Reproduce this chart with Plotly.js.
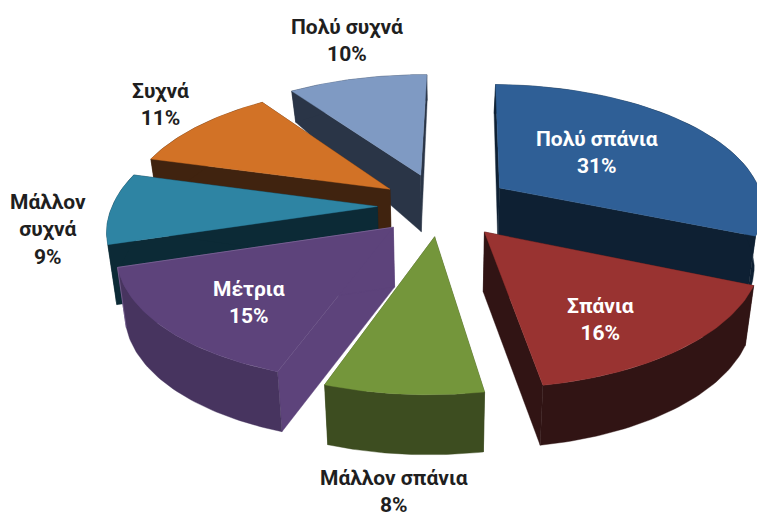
<!DOCTYPE html>
<html><head><meta charset="utf-8">
<script src="https://cdn.plot.ly/plotly-3.0.1.min.js"></script>
<style>html,body{margin:0;padding:0;background:#fff}#c{width:757px;height:518px}</style></head>
<body><div id="c"></div>
<script>
// data, clockwise from 12 o'clock
const categories = ["Πολύ σπάνια","Σπάνια","Μάλλον σπάνια","Μέτρια","Μάλλον συχνά","Συχνά","Πολύ συχνά"];
const shares = [31,16,8,15,9,11,10];
// styles
const topColors  = ["#2f5f96","#993331","#74963b","#5d437b","#2e84a3","#d27226","#7f9ac3"];
const wallColors = ["#0e2033","#311414","#3d4d20","#47345f","#0c2a36","#40230f","#2a3547"];
const faceColors = ["#0e2033","#311414","#3d4d20","#5d437b","#0c2a36","#40230f","#2a3547"];
const labelColors= ["#ffffff","#ffffff","#1f1f1f","#ffffff","#1f1f1f","#1f1f1f","#1f1f1f"];
const labelNames = ["Πολύ σπάνια","Σπάνια","Μάλλον σπάνια","Μέτρια","Μάλλον<br>συχνά","Συχνά","Πολύ συχνά"];
const labelX = [597,600,394,249,48,160,347];
const labelY = [152,319,491,302,229,104,40];
const drawOrder = [6,5,4,0,3,2,1];
const pull = [0.27,0.26,0.24,0.24,0.24,0.24,0.27];
const rotation = 0.9*Math.PI/180;
// projection of the exploded disc
const cx=441, cy=206, R=265, Ra=124, k=0.15, taper=0.027, shear=5;
const f = Y => 1/(1-k*Y);
const depth = Y => 60 - 27*Math.max(0,-Y-0.2) - (Y<0.2?4*(0.2-Y):0);
function proj(X,Y,low){
  let x=cx+R*X*f(Y)-shear*Math.max(0,Y), y=cy+Ra*Y*f(Y);
  if(low){ x=cx+(x-cx)*(1-taper); y+=depth(Y); }
  return [x,y];
}
const traces=[];
function poly(pts,color){
  traces.push({type:'scatter',mode:'lines',x:pts.map(p=>p[0]),y:pts.map(p=>p[1]),fill:'toself',fillcolor:color,
    line:{color:color,width:0.4},hoverinfo:'skip',showlegend:false});
}
const total=shares.reduce((a,b)=>a+b,0);
const starts=[];let acc=0;shares.forEach(v=>{starts.push(acc);acc+=v;});
drawOrder.forEach(i=>{
  const t0=rotation+starts[i]/total*2*Math.PI, t1=rotation+(starts[i]+shares[i])/total*2*Math.PI, tm=(t0+t1)/2;
  const ax=pull[i]*Math.sin(tm), ay=-pull[i]*Math.cos(tm);
  const rim=[];for(let j=0;j<=48;j++){const t=t0+(t1-t0)*j/48;rim.push([ax+Math.sin(t),ay-Math.cos(t)]);}
  const A=proj(ax,ay),Al=proj(ax,ay,true);
  const top=rim.map(p=>proj(p[0],p[1])), low=rim.map(p=>proj(p[0],p[1],true));
  poly([A,top[0],low[0],Al,A],faceColors[i]);
  poly([A,top[48],low[48],Al,A],faceColors[i]);
  poly(top.concat(low.slice().reverse()).concat([top[0]]),wallColors[i]);
  poly([A].concat(top).concat([A]),topColors[i]);
  if(faceColors[i]===topColors[i]){
    traces.push({type:'scatter',mode:'lines',x:[A[0],top[48][0],low[48][0]],y:[A[1],top[48][1],low[48][1]],
      line:{color:'#8a74a3',width:0.6},hoverinfo:'skip',showlegend:false});
  }
});
const annotations=categories.map((c,i)=>({x:labelX[i],y:labelY[i],xref:'x',yref:'y',showarrow:false,xanchor:'center',yanchor:'middle',
  text:'<b>'+labelNames[i]+'<br>'+shares[i]+'%</b>',font:{family:'Roboto',size:21,color:labelColors[i]}}));
Plotly.newPlot('c',traces,{
  width:757,height:518,margin:{l:0,r:0,t:0,b:0},paper_bgcolor:'#fff',plot_bgcolor:'#fff',showlegend:false,
  xaxis:{range:[0,757],visible:false,fixedrange:true},
  yaxis:{range:[518,0],visible:false,fixedrange:true},
  annotations
},{displayModeBar:false,staticPlot:true});
</script></body></html>
